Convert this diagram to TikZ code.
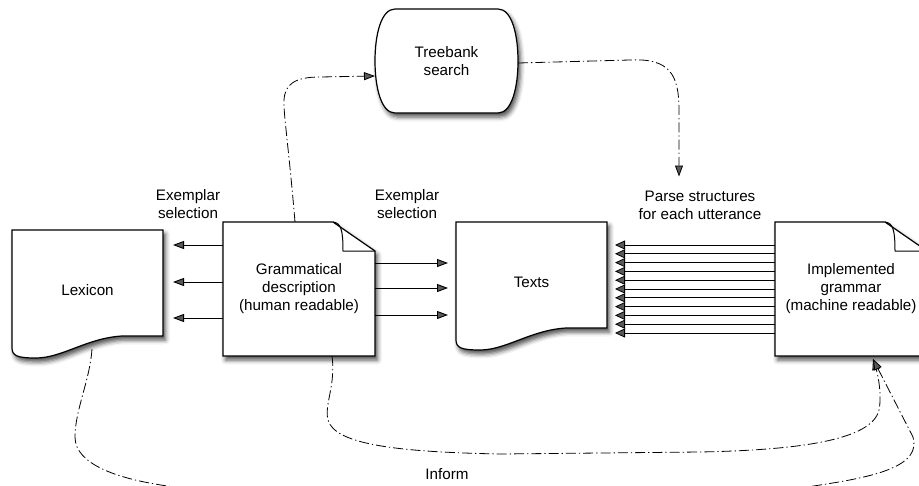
\documentclass[tikz,border=0pt]{standalone}
\usepackage{fontspec}
\setmainfont{Liberation Sans}
\usetikzlibrary{arrows.meta,calc,shadows.blur}
\begin{document}
\begin{tikzpicture}[x=1pt,y=-1pt,
  font=\fontsize{15.2}{18}\selectfont,
  lbl/.style={align=center, inner sep=0pt},
  box/.style={rectangle, inner sep=0pt, outer sep=0pt, align=center},
  outl/.style={draw=black, line width=1.2pt, fill=white,
    blur shadow={shadow xshift=2.5pt, shadow yshift=-4pt, shadow blur radius=4.5pt, shadow opacity=70}},
  arr/.style={line width=0.9pt, -{Triangle[length=11pt,width=8pt]}},
  parr/.style={line width=0.8pt, -{Triangle[length=10pt,width=9pt]}},
  dd/.style={line width=0.8pt, dash pattern=on 10pt off 3pt on 1.3pt off 3pt},
  ddarr/.style={dd, -{Triangle[length=11pt,width=8pt]}}]

\useasboundingbox (0,0) rectangle (919,485);
\clip (0,0) rectangle (919,485);

% ---- outlines ----
% Lexicon (document)
\path[outl] (12,230) -- (163,230) -- (163,336) -- (122,336)
  .. controls (87,338) and (62,358) .. (36,358)
  .. controls (18,358) and (12,356) .. (12,348) -- cycle;
% Texts (document)
\path[outl] (456,222) -- (607,222) -- (607,328) -- (566,328)
  .. controls (531,330) and (506,350) .. (480,350)
  .. controls (462,350) and (456,348) .. (456,340) -- cycle;
% Grammatical description (note)
\path[outl] (223,222) -- (333,222) -- (375,251) -- (375,356) -- (223,356) -- cycle;
\draw[line width=1pt] (333,222) .. controls (341,223) and (343,230) .. (343,251) -- (375,251);
% Implemented grammar (note)
\path[outl] (775,222) -- (885,222) -- (927,251) -- (927,356) -- (775,356) -- cycle;
\draw[line width=1pt] (885,222) .. controls (893,223) and (895,230) .. (895,251) -- (927,251);
% Treebank search
\path[outl] (395,9) -- (498,9) .. controls (512,9) and (518,35) .. (518,61)
  .. controls (518,87) and (512,113) .. (498,113) -- (395,113)
  .. controls (381,113) and (375,87) .. (375,61)
  .. controls (375,35) and (381,9) .. (395,9) -- cycle;

% ---- nodes ----
\node[box, minimum width=151pt, minimum height=120pt] (lex) at (87.5,290) {Lexicon};
\node[box, minimum width=152pt, minimum height=134pt] (gram) at (299,289) {Grammatical\\description\\(human readable)};
\node[box, minimum width=151pt, minimum height=120pt] (texts) at (531.5,282) {Texts};
\node[box, minimum width=152pt, minimum height=134pt] (impl) at (851,289) {Implemented\\grammar\\(machine readable)};
\node[box, minimum width=143pt, minimum height=104pt] (tb) at (446.5,61) {Treebank\\search};
\node[lbl] (ex1) at (188,204) {Exemplar\\selection};
\node[lbl] (ex2) at (407,204) {Exemplar\\selection};
\node[lbl] (parse) at (700,205) {Parse structures\\for each utterance};
\node[lbl] (inform) at (447,474) {Inform};

% ---- solid arrows ----
\foreach \d in {-44,-7,29}{
  \path (gram.west) ++(0,\d) coordinate (s);
  \draw[arr, shorten >=10pt] (s) -- (s -| lex.east);
}
\foreach \d in {-26,-1,26}{
  \path (gram.east) ++(0,\d) coordinate (s);
  \draw[arr, shorten >=8pt] (s) -- (s -| texts.west);
}
\foreach \k in {0,...,10}{
  \path (impl.west) ++(0,{-44+8.8*\k}) coordinate (s);
  \draw[parr, shorten >=8pt] (s) -- (s -| texts.east);
}

% ---- dash-dot connectors ----
\coordinate (gtop) at ($(gram.north)+(-4,0)$);
\coordinate (ptip) at ($(parse.north)+(-21,-14)$);
\coordinate (itip) at ($(impl.south)+(22,3)$);
\coordinate (gbot) at ($(gram.south)+(33,0)$);
\coordinate (lbot) at ($(lex.south)+(4.5,-1)$);

\draw[ddarr] (gtop) .. controls (289,150) and (283,110) .. (284,100)
  .. controls (285,84) and (295,77) .. (320,77) -- ($(tb.west)+(0,15)$);
\draw[ddarr] ($(tb.east)+(0,2)$) -- (630,60)
  .. controls (670,58) and (679,75) .. (679,110) -- (ptip);
\draw[ddarr] (gbot) .. controls (336,385) and (324,405) .. (328,420)
  .. controls (335,445) and (400,452) .. (500,454) -- (700,452)
  .. controls (800,450) and (872,440) .. (879,410)
  .. controls (882,395) and (878,375) .. (itip);
\draw[ddarr] (lbot) .. controls (90,380) and (75,410) .. (75,437)
  .. controls (75,465) and (120,478) .. (155,484)
  .. controls (300,510) and (700,505) .. (820,485)
  .. controls (880,476) and (921,465) .. (913,437) -- (itip);
\end{tikzpicture}
\end{document}
